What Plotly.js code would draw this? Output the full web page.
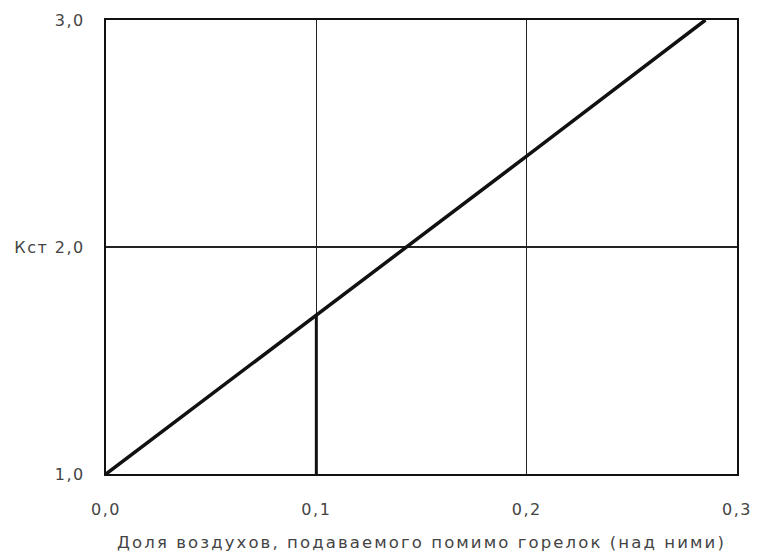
<!DOCTYPE html>
<html>
<head>
<meta charset="utf-8">
<script src="https://cdn.plot.ly/plotly-3.0.1.min.js"></script>
<style>
body{margin:0;background:#fff;}
#chart{width:759px;height:560px;}
.xtitle{letter-spacing:2.1px;}
.ytick text,.xtick text{letter-spacing:1.5px;}
</style>
</head>
<body>
<div id="chart"></div>
<script>
// Data
const xValues = [0.0, 0.1, 0.2, 0.285];
const yValues = [1.0, 1.7, 2.4, 3.0];
const dropX = [0.1, 0.1];
const dropY = [1.0, 1.7];
const xTickVals = [0.0, 0.1, 0.2, 0.3];
const xTickText = ['0,0', '0,1', '0,2', '0,3'];
const yTickVals = [1.0, 2.0, 3.0];
const yTickText = ['1,0', 'Кст 2,0', '3,0'];
const xTitle = 'Доля воздухов, подаваемого помимо горелок (над ними)';

const drop = {
  x: dropX, y: dropY, type: 'scatter', mode: 'lines',
  line: {color: '#111', width: 3}, hoverinfo: 'none'
};
const trace = {
  x: xValues, y: yValues, type: 'scatter', mode: 'lines',
  line: {color: '#111', width: 3.5}, hoverinfo: 'none'
};
const layout = {
  width: 759, height: 560,
  margin: {l: 106, r: 22, t: 20, b: 86},
  paper_bgcolor: '#fff', plot_bgcolor: '#fff',
  showlegend: false,
  font: {family: 'DejaVu Sans, sans-serif', size: 16, color: '#444'},
  xaxis: {
    range: [0, 0.3], tickvals: xTickVals, ticktext: xTickText,
    showgrid: true, gridcolor: '#222', gridwidth: 1.5,
    showline: true, linecolor: '#111', linewidth: 2, mirror: true,
    zeroline: false, ticks: '', ticklabelstandoff: 20,
    title: {text: xTitle, font: {size: 16.5, color: '#444'}, standoff: 18}
  },
  yaxis: {
    range: [1, 3], tickvals: yTickVals, ticktext: yTickText,
    showgrid: true, gridcolor: '#222', gridwidth: 1.5,
    showline: true, linecolor: '#111', linewidth: 2, mirror: true,
    zeroline: false, ticks: '', ticklabelstandoff: 16
  }
};
Plotly.newPlot('chart', [drop, trace], layout, {displayModeBar: false, staticPlot: true});
</script>
</body>
</html>
